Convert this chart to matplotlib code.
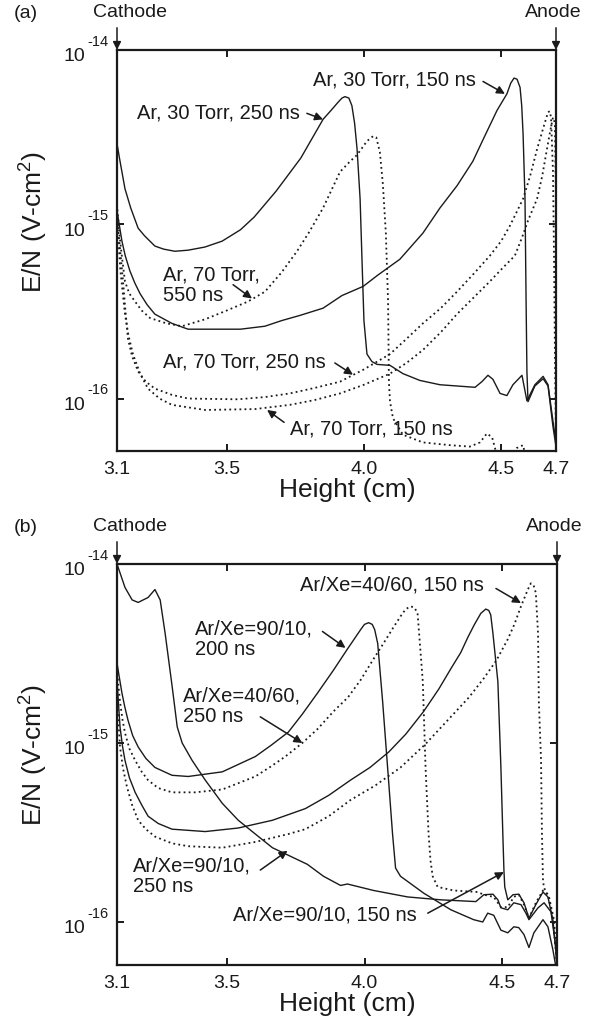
"""
E/N profiles between cathode and anode: (a) pure Ar, (b) Ar/Xe mixtures.
"""
import matplotlib
matplotlib.use("Agg")
import matplotlib.pyplot as plt
from matplotlib.ticker import NullLocator, NullFormatter

plt.rcParams["font.family"] = ["Liberation Sans", "DejaVu Sans"]
plt.rcParams["mathtext.default"] = "regular"

INK = "#1a1a1a"

# ── Axis settings ────────────────────────────────────────────────────────────
XTICKS = [3.1, 3.5, 4.0, 4.5, 4.7]
XTICK_LABELS = ["3.1", "3.5", "4.0", "4.5", "4.7"]
YTICKS = [1e-14, 1e-15, 1e-16]
YTICK_EXPS = ["-14", "-15", "-16"]

# ── Panel (a): pure Ar ───────────────────────────────────────────────────────
x_30t_250 = [3.100, 3.111, 3.129, 3.150, 3.177, 3.200, 3.238, 3.270, 3.311, 3.359,
             3.420, 3.483, 3.550, 3.600, 3.680, 3.770, 3.851, 3.880, 3.905, 3.920,
             3.931, 3.945, 3.956, 3.966, 3.975, 3.986, 3.993, 4.000, 4.011, 4.029,
             4.048, 4.095, 4.142, 4.204, 4.277, 4.405, 4.430, 4.452, 4.470, 4.496,
             4.521, 4.543, 4.576, 4.594, 4.623, 4.653, 4.671, 4.689, 4.700]
en_30t_250 = [2.9e-15, 2.3e-15, 1.6e-15, 1.24e-15, 9.5e-16, 8.6e-16, 7.5e-16, 7.2e-16, 7.0e-16, 7.1e-16,
              7.4e-16, 8.0e-16, 9.3e-16, 1.1e-15, 1.55e-15, 2.4e-15, 4.0e-15, 4.5e-15, 5.0e-15, 5.3e-15,
              5.4e-15, 5.3e-15, 4.8e-15, 3.8e-15, 2.7e-15, 1.4e-15, 6.2e-16, 2.8e-16, 1.8e-16, 1.63e-16,
              1.57e-16, 1.55e-16, 1.39e-16, 1.27e-16, 1.2e-16, 1.16e-16, 1.25e-16, 1.36e-16, 1.29e-16, 1.07e-16,
              1.04e-16, 1.2e-16, 1.36e-16, 9.7e-17, 1.2e-16, 1.34e-16, 1.2e-16, 7.4e-17, 5.6e-17]

x_30t_150 = [3.100, 3.108, 3.118, 3.130, 3.147, 3.165, 3.184, 3.210, 3.238, 3.300,
             3.359, 3.450, 3.550, 3.639, 3.700, 3.767, 3.851, 3.920, 3.997, 4.050,
             4.131, 4.215, 4.277, 4.340, 4.397, 4.440, 4.485, 4.521, 4.535, 4.547,
             4.558, 4.569, 4.575, 4.580, 4.587, 4.591, 4.594, 4.598, 4.623, 4.653,
             4.671, 4.689, 4.700]
en_30t_150 = [1.2e-15, 1.0e-15, 8.0e-16, 6.6e-16, 5.4e-16, 4.6e-16, 4.0e-16, 3.45e-16, 3.05e-16, 2.7e-16,
              2.5e-16, 2.5e-16, 2.5e-16, 2.6e-16, 2.8e-16, 3.0e-16, 3.3e-16, 3.9e-16, 4.4e-16, 5.1e-16,
              6.3e-16, 8.9e-16, 1.24e-15, 1.67e-15, 2.3e-15, 3.2e-15, 4.5e-15, 5.6e-15, 6.45e-15, 6.9e-15,
              6.8e-15, 6.1e-15, 4.8e-15, 3.3e-15, 1.4e-15, 3.6e-16, 1.43e-16, 9.6e-17, 1.18e-16, 1.3e-16,
              1.18e-16, 6.9e-17, 5.3e-17]

x_70t_550 = [3.100, 3.108, 3.118, 3.129, 3.145, 3.166, 3.190, 3.220, 3.280, 3.337,
             3.421, 3.500, 3.577, 3.639, 3.700, 3.756, 3.800, 3.851, 3.913, 3.950,
             3.975, 4.011, 4.033, 4.045, 4.058, 4.069, 4.080, 4.088, 4.091, 4.095,
             4.106, 4.142, 4.215, 4.314, 4.386, 4.423, 4.448, 4.467, 4.485, 4.514,
             4.557, 4.580, 4.598]
en_70t_550 = [1.3e-15, 9.0e-16, 6.5e-16, 4.7e-16, 4.0e-16, 3.6e-16, 3.2e-16, 2.9e-16, 2.7e-16, 2.6e-16,
              2.85e-16, 3.2e-16, 3.6e-16, 4.1e-16, 5.3e-16, 7.0e-16, 9.0e-16, 1.24e-15, 2.0e-15, 2.3e-15,
              2.5e-15, 3.0e-15, 3.2e-15, 3.15e-15, 2.6e-15, 1.7e-15, 8.8e-16, 3.6e-16, 1.25e-16, 9.6e-17,
              7.7e-17, 6.2e-17, 5.6e-17, 5.4e-17, 5.3e-17, 5.6e-17, 6.3e-17, 6.0e-17, 4.7e-17, 4.0e-17,
              5.2e-17, 5.4e-17, 4.0e-17]

x_70t_250 = [3.100, 3.110, 3.122, 3.130, 3.140, 3.155, 3.177, 3.205, 3.238, 3.300,
             3.359, 3.541, 3.640, 3.730, 3.820, 3.913, 4.000, 4.095, 4.155, 4.215,
             4.280, 4.339, 4.400, 4.459, 4.500, 4.532, 4.556, 4.580, 4.606, 4.631,
             4.652, 4.671, 4.677, 4.682, 4.689, 4.693, 4.696, 4.700]
en_70t_250 = [1.1e-15, 7.5e-16, 4.7e-16, 3.3e-16, 2.2e-16, 1.75e-16, 1.43e-16, 1.25e-16, 1.14e-16, 1.05e-16,
              1.0e-16, 9.9e-17, 1.02e-16, 1.07e-16, 1.15e-16, 1.25e-16, 1.47e-16, 1.8e-16, 2.2e-16, 2.7e-16,
              3.3e-16, 4.1e-16, 5.2e-16, 6.6e-16, 8.0e-16, 9.8e-16, 1.17e-15, 1.4e-15, 1.9e-15, 2.7e-15,
              3.5e-15, 4.4e-15, 4.45e-15, 4.1e-15, 2.0e-15, 6.2e-16, 1.9e-16, 5.6e-17]

x_70t_150 = [3.100, 3.112, 3.129, 3.142, 3.158, 3.185, 3.213, 3.255, 3.300, 3.421,
             3.603, 3.730, 3.820, 3.913, 4.000, 4.095, 4.155, 4.215, 4.280, 4.339,
             4.400, 4.459, 4.505, 4.550, 4.575, 4.598, 4.631, 4.650, 4.667, 4.680,
             4.689, 4.693, 4.696, 4.700, 4.701]
en_70t_150 = [1.1e-15, 5.5e-16, 3.05e-16, 2.3e-16, 1.8e-16, 1.38e-16, 1.14e-16, 1.0e-16, 9.2e-17, 8.6e-17,
              8.7e-17, 9.2e-17, 9.8e-17, 1.07e-16, 1.2e-16, 1.39e-16, 1.6e-16, 1.9e-16, 2.4e-16, 3.05e-16,
              3.8e-16, 4.7e-16, 5.6e-16, 6.6e-16, 8.3e-16, 1.05e-15, 1.4e-15, 1.9e-15, 2.7e-15, 3.5e-15,
              4.1e-15, 4.0e-15, 3.7e-15, 1.4e-15, 5.0e-17]

# ── Panel (b): Ar/Xe mixtures ────────────────────────────────────────────────
x_9010_150 = [3.100, 3.105, 3.111, 3.120, 3.129, 3.145, 3.166, 3.190, 3.213, 3.250,
              3.300, 3.421, 3.541, 3.665, 3.785, 3.870, 3.949, 4.020, 4.088, 4.150,
              4.215, 4.270, 4.314, 4.350, 4.376, 4.400, 4.423, 4.441, 4.452, 4.459,
              4.467, 4.485, 4.496, 4.503, 4.507, 4.510, 4.521, 4.540, 4.561, 4.580,
              4.598, 4.623, 4.649, 4.667, 4.685, 4.700]
en_9010_150 = [2.25e-15, 1.7e-15, 1.23e-15, 9.6e-16, 8.0e-16, 6.4e-16, 5.3e-16, 4.5e-16, 3.9e-16, 3.55e-16,
               3.3e-16, 3.2e-16, 3.35e-16, 3.7e-16, 4.3e-16, 5.1e-16, 6.2e-16, 7.3e-16, 8.9e-16, 1.12e-15,
               1.5e-15, 2.0e-15, 2.6e-15, 3.2e-15, 3.9e-15, 4.6e-15, 5.3e-15, 5.6e-15, 5.5e-15, 5.2e-15,
               4.1e-15, 2.2e-15, 7.3e-16, 3.1e-16, 1.95e-16, 1.57e-16, 1.33e-16, 1.42e-16, 1.43e-16, 1.28e-16,
               1.05e-16, 1.25e-16, 1.47e-16, 1.38e-16, 1.03e-16, 5.9e-17]

x_9010_200 = [3.100, 3.109, 3.118, 3.128, 3.140, 3.157, 3.177, 3.205, 3.238, 3.300,
              3.359, 3.483, 3.603, 3.660, 3.723, 3.774, 3.829, 3.887, 3.938, 3.986,
              4.000, 4.015, 4.028, 4.037, 4.048, 4.066, 4.084, 4.102, 4.113, 4.131,
              4.215, 4.314, 4.397, 4.430, 4.448, 4.470, 4.496, 4.521, 4.543, 4.561,
              4.580, 4.598, 4.616, 4.649, 4.667, 4.685, 4.696]
en_9010_200 = [2.8e-15, 2.3e-15, 1.9e-15, 1.6e-15, 1.34e-15, 1.1e-15, 9.5e-16, 8.2e-16, 7.3e-16, 6.6e-16,
               6.5e-16, 6.9e-16, 8.4e-16, 9.7e-16, 1.15e-15, 1.45e-15, 1.9e-15, 2.55e-15, 3.35e-15, 4.3e-15,
               4.6e-15, 4.7e-15, 4.6e-15, 4.3e-15, 3.6e-15, 1.7e-15, 7.3e-16, 3.1e-16, 2.0e-16, 1.8e-16,
               1.45e-16, 1.17e-16, 1.03e-16, 1.0e-16, 1.12e-16, 1.09e-16, 9.0e-17, 8.7e-17, 9.4e-17, 9.3e-17,
               8.5e-17, 7.2e-17, 8.7e-17, 1.03e-16, 9.4e-17, 7.0e-17, 5.6e-17]

x_9010_250 = [3.100, 3.129, 3.155, 3.177, 3.213, 3.238, 3.257, 3.275, 3.300, 3.319,
              3.337, 3.373, 3.421, 3.483, 3.541, 3.603, 3.665, 3.738, 3.792, 3.851,
              3.913, 3.938, 4.033, 4.157, 4.277, 4.405, 4.434, 4.467, 4.485, 4.496,
              4.521, 4.543, 4.569, 4.587, 4.598, 4.631, 4.653, 4.678, 4.696, 4.700]
en_9010_250 = [1.0e-14, 7.4e-15, 6.3e-15, 6.1e-15, 6.5e-15, 7.2e-15, 6.3e-15, 4.1e-15, 2.1e-15, 1.23e-15,
               1.0e-15, 8.0e-16, 6.2e-16, 4.6e-16, 3.7e-16, 3.1e-16, 2.6e-16, 2.3e-16, 2.1e-16, 1.8e-16,
               1.6e-16, 1.63e-16, 1.5e-16, 1.38e-16, 1.33e-16, 1.3e-16, 1.42e-16, 1.43e-16, 1.33e-16, 1.2e-16,
               1.17e-16, 1.28e-16, 1.25e-16, 1.12e-16, 1.03e-16, 1.2e-16, 1.28e-16, 1.14e-16, 7.2e-17, 5.1e-17]

x_4060_250 = [3.100, 3.105, 3.111, 3.120, 3.129, 3.145, 3.166, 3.190, 3.213, 3.250,
              3.300, 3.384, 3.483, 3.603, 3.660, 3.712, 3.774, 3.830, 3.887, 3.940,
              3.986, 4.030, 4.069, 4.100, 4.131, 4.150, 4.168, 4.182, 4.193, 4.212,
              4.222, 4.233, 4.240, 4.248, 4.266, 4.324, 4.412, 4.434, 4.470, 4.496,
              4.521, 4.543, 4.561, 4.580, 4.598, 4.623, 4.649, 4.667, 4.685, 4.700]
en_4060_250 = [2.6e-15, 2.1e-15, 1.7e-15, 1.35e-15, 1.14e-15, 9.3e-16, 8.0e-16, 6.9e-16, 6.2e-16, 5.6e-16,
               5.3e-16, 5.3e-16, 5.5e-16, 6.5e-16, 7.4e-16, 8.4e-16, 1.0e-15, 1.2e-15, 1.5e-15, 1.8e-15,
               2.25e-15, 2.9e-15, 3.6e-15, 4.3e-15, 5.1e-15, 5.6e-15, 5.8e-15, 5.7e-15, 5.3e-15, 2.2e-15,
               7.3e-16, 3.1e-16, 2.2e-16, 1.8e-16, 1.57e-16, 1.5e-16, 1.47e-16, 1.42e-16, 1.38e-16, 1.21e-16,
               1.21e-16, 1.38e-16, 1.42e-16, 1.25e-16, 1.05e-16, 1.28e-16, 1.5e-16, 1.42e-16, 1.05e-16, 5.8e-17]

x_4060_150 = [3.100, 3.105, 3.111, 3.122, 3.136, 3.155, 3.177, 3.205, 3.238, 3.300,
              3.359, 3.483, 3.603, 3.723, 3.785, 3.870, 3.949, 4.040, 4.131, 4.220,
              4.314, 4.380, 4.434, 4.480, 4.521, 4.545, 4.569, 4.594, 4.605, 4.615,
              4.623, 4.631, 4.634, 4.642, 4.645, 4.649, 4.653, 4.671, 4.689, 4.700]
en_4060_150 = [2.0e-15, 1.35e-15, 9.5e-16, 7.2e-16, 5.7e-16, 4.5e-16, 3.7e-16, 3.3e-16, 3.0e-16, 2.75e-16,
               2.65e-16, 2.6e-16, 2.8e-16, 3.1e-16, 3.3e-16, 3.9e-16, 4.8e-16, 5.8e-16, 7.3e-16, 9.8e-16,
               1.4e-15, 1.8e-15, 2.3e-15, 2.9e-15, 3.8e-15, 4.6e-15, 5.8e-15, 7.2e-15, 7.8e-15, 7.6e-15,
               6.9e-15, 4.1e-15, 1.7e-15, 8.0e-16, 3.3e-16, 1.7e-16, 1.55e-16, 1.38e-16, 1.03e-16, 6.1e-17]

SOLID = dict(color=INK, lw=1.0, ls="-")
DOTTED = dict(color=INK, lw=1.3, ls=(0, (1, 1.8)))
ARROW = dict(arrowstyle="-|>", color=INK, lw=1.1, mutation_scale=12, shrinkA=0, shrinkB=0)


def _style_axes(ax, y_low):
    """Log axes, inward ticks, hand-placed 10^n labels."""
    ax.set_yscale("log")
    ax.set_xlim(3.1, 4.7)
    ax.set_ylim(y_low, 1e-14)
    ax.set_xticks(XTICKS)
    ax.set_xticklabels(XTICK_LABELS)
    ax.set_yticks(YTICKS)
    ax.yaxis.set_major_formatter(NullFormatter())
    ax.yaxis.set_minor_locator(NullLocator())
    ax.tick_params(axis="both", which="major", direction="in", top=True, right=True,
                   length=5, width=1.4, labelsize=14, pad=7, color=INK, labelcolor=INK)
    for s in ax.spines.values():
        s.set_linewidth(1.6)
        s.set_color(INK)
    for val, exp in zip(YTICKS, YTICK_EXPS):
        ax.annotate("10", xy=(0, val), xycoords=("axes fraction", "data"),
                    xytext=(-23, -5), textcoords="offset points",
                    ha="right", va="center", fontsize=14, color=INK)
        ax.annotate(exp, xy=(0, val), xycoords=("axes fraction", "data"),
                    xytext=(-21, 6), textcoords="offset points",
                    ha="left", va="center", fontsize=10.5, color=INK)
    # electrode markers
    for xf, dx, name in [(0, 9.5, "Cathode"), (1, -2, "Anode")]:
        ax.annotate("", xy=(xf, 1), xycoords="axes fraction",
                    xytext=(0, 16), textcoords="offset points", arrowprops=ARROW)
        ax.annotate(name, xy=(xf, 1), xycoords="axes fraction",
                    xytext=(dx, 27), textcoords="offset points",
                    ha="center", va="center", fontsize=14, color=INK)


def _label(ax, x, y, text, tail, tip):
    ax.text(x, y, text, ha="left", va="center", fontsize=14.5, color=INK, linespacing=1.1)
    ax.annotate("", xy=tip, xytext=tail, arrowprops=ARROW)


fig = plt.figure(figsize=(5.94, 10.28), dpi=100)
ax1 = fig.add_axes([117 / 594, 1 - 451 / 1028, 439 / 594, 401 / 1028])
ax2 = fig.add_axes([117 / 594, 1 - 965 / 1028, 440 / 594, 401 / 1028])

# (a)
ax1.plot(x_30t_250, en_30t_250, **SOLID)
ax1.plot(x_30t_150, en_30t_150, **SOLID)
ax1.plot(x_70t_550, en_70t_550, **DOTTED)
ax1.plot(x_70t_250, en_70t_250, **DOTTED)
ax1.plot(x_70t_150, en_70t_150, **DOTTED)
_style_axes(ax1, 5e-17)

_label(ax1, 3.173, 4.33e-15, "Ar, 30 Torr, 250 ns", (3.792, 4.33e-15), (3.851, 4.0e-15))
_label(ax1, 3.814, 6.7e-15, "Ar, 30 Torr, 150 ns", (4.434, 6.6e-15), (4.514, 5.6e-15))
_label(ax1, 3.268, 4.48e-16, "Ar, 70 Torr,\n550 ns", (3.523, 4.5e-16), (3.592, 3.75e-16))
_label(ax1, 3.268, 1.63e-16, "Ar, 70 Torr, 250 ns", (3.894, 1.6e-16), (3.960, 1.37e-16))
_label(ax1, 3.730, 6.7e-17, "Ar, 70 Torr, 150 ns", (3.709, 7.3e-17), (3.647, 8.6e-17))

# (b)
ax2.plot(x_9010_150, en_9010_150, **SOLID)
ax2.plot(x_9010_200, en_9010_200, **SOLID)
ax2.plot(x_9010_250, en_9010_250, **SOLID)
ax2.plot(x_4060_250, en_4060_250, **DOTTED)
ax2.plot(x_4060_150, en_4060_150, **DOTTED)
_style_axes(ax2, 5.75e-17)

_label(ax2, 3.384, 3.81e-15, "Ar/Xe=90/10,\n200 ns", (3.847, 4.2e-15), (3.931, 3.4e-15))
_label(ax2, 3.341, 1.61e-15, "Ar/Xe=40/60,\n250 ns", (3.621, 1.4e-15), (3.774, 1.0e-15))
_label(ax2, 3.767, 7.6e-15, "Ar/Xe=40/60, 150 ns", (4.478, 7.3e-15), (4.569, 6.05e-15))
_label(ax2, 3.158, 1.8e-16, "Ar/Xe=90/10,\n250 ns", (3.621, 1.95e-16), (3.720, 2.5e-16))
_label(ax2, 3.523, 1.09e-16, "Ar/Xe=90/10, 150 ns", (4.230, 1.12e-16), (4.507, 1.9e-16))

# figure-level labels
for yc_label, yc_axis, yc_x, tag in [(14, 222, 490, "(a)"), (527, 755, 1004, "(b)")]:
    fig.text(26 / 594, 1 - yc_label / 1028, tag, ha="center", va="center", fontsize=14, color=INK)
    fig.text(34 / 594, 1 - yc_axis / 1028, "E/N (V-cm$^2$)", rotation=90,
             ha="center", va="center", fontsize=19, color=INK)
    fig.text(347 / 594, 1 - yc_x / 1028, "Height (cm)", ha="center", va="center",
             fontsize=19, color=INK)

fig.savefig("out.png", dpi=100)
plt.close(fig)
